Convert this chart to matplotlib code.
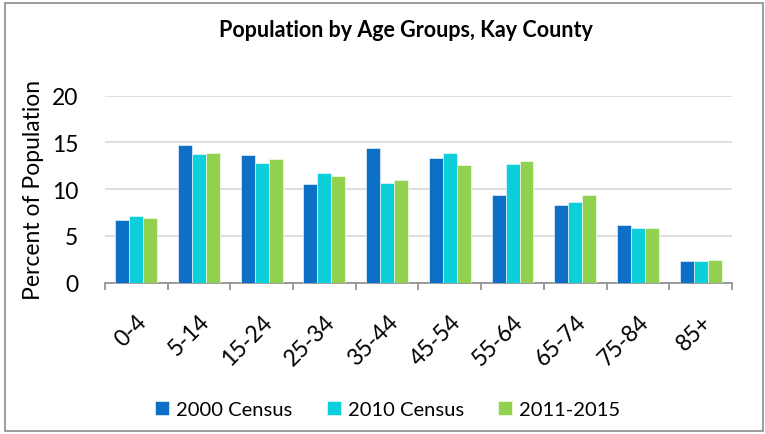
import numpy as np
import matplotlib.pyplot as plt
from matplotlib.patches import Rectangle

# === Data ===
age_groups = ["0-4", "5-14", "15-24", "25-34", "35-44",
              "45-54", "55-64", "65-74", "75-84", "85+"]
census_2000 = [6.7, 14.7, 13.6, 10.5, 14.4, 13.3, 9.4, 8.35, 6.15, 2.35]
census_2010 = [7.15, 13.75, 12.75, 11.7, 10.6, 13.85, 12.7, 8.65, 5.85, 2.35]
acs_2011_2015 = [6.9, 13.85, 13.2, 11.45, 10.95, 12.55, 13.0, 9.35, 5.85, 2.4]
series_names = ["2000 Census", "2010 Census", "2011-2015"]
colors = ["#0E6FC7", "#0DCFD9", "#92D050"]

plt.rcParams['font.family'] = ['Lato', 'DejaVu Sans']

fig = plt.figure(figsize=(7.65, 4.35), dpi=100)
ax = fig.add_axes([0.137, 0.348, 0.820, 0.430])

# border of the chart area
fig.patches.append(Rectangle((0.007, 0.007), 0.990, 0.983, transform=fig.transFigure,
                             fill=False, edgecolor="#8C8C8C", linewidth=1.2))

x = np.arange(len(age_groups))
w = 0.222
for i, (vals, name, c) in enumerate(zip([census_2000, census_2010, acs_2011_2015],
                                         series_names, colors)):
    ax.bar(x + (i - 1) * w, vals, width=w, color=c, label=name,
           edgecolor="white", linewidth=0.4, zorder=3)

ax.set_xlim(-0.5, len(age_groups) - 0.5)
ax.set_ylim(0, 20)
ax.set_yticks([0, 5, 10, 15, 20])
ax.grid(axis="y", color="#D9D9D9", linewidth=1.2, zorder=0)
ax.set_axisbelow(True)

for s in ["top", "right", "left"]:
    ax.spines[s].set_visible(False)
ax.spines["bottom"].set_color("#8C8C8C")
ax.spines["bottom"].set_linewidth(1.2)

# category boundary ticks
ax.set_xticks(np.arange(-0.5, len(age_groups)), minor=False)
ax.set_xticklabels([])
ax.tick_params(axis="x", which="major", length=5, color="#8C8C8C", width=1.2)
ax.set_xticks(x, minor=True)
ax.set_xticklabels(age_groups, minor=True, rotation=45, ha="right",
                   rotation_mode="anchor", fontsize=16.5)
ax.tick_params(axis="x", which="minor", length=0, pad=20)
ax.tick_params(axis="y", length=0, labelsize=16.5, pad=19)

ax.set_ylabel("Percent of Population", fontsize=16.5, labelpad=6)
fig.text(0.53, 0.93, "Population by Age Groups, Kay County",
         ha="center", va="center", fontsize=15.5, fontweight="bold")

fig.legend(loc="center", bbox_to_anchor=(0.507, 0.057), ncol=3, frameon=False,
           fontsize=14.5, handlelength=0.7, handleheight=0.7, handletextpad=0.35,
           columnspacing=1.7)

fig.savefig("out.png", dpi=100)
